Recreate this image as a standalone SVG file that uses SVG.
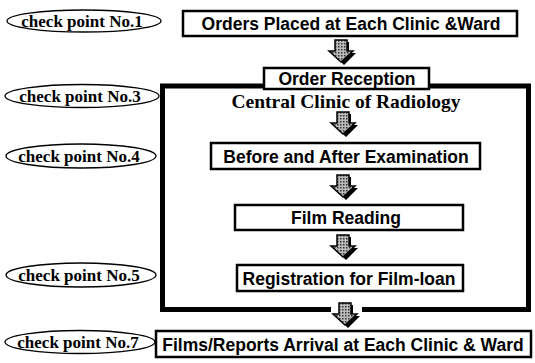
<svg xmlns="http://www.w3.org/2000/svg" width="535" height="363" viewBox="0 0 535 363">
<style>
.box{fill:#fff;stroke:#000;stroke-width:2.5}
.lbl{font-family:"Liberation Sans",Arial,sans-serif;font-weight:bold;font-size:17.5px;text-anchor:middle;fill:#000}
.cp{fill:#fff;stroke:#000;stroke-width:1.3}
.cpt{font-family:"Liberation Serif","Times New Roman",serif;font-weight:bold;font-size:17px;text-anchor:middle;fill:#000}
.frame{fill:none;stroke:#000;stroke-width:5}
.title{font-family:"Liberation Serif","Times New Roman",serif;font-weight:bold;font-size:19.5px;text-anchor:middle;fill:#000}
</style>
<defs>
<pattern id="dots" width="3" height="3" patternUnits="userSpaceOnUse">
<rect width="3" height="3" fill="#bbb"/>
<rect width="1.5" height="1.5" fill="#333"/>
</pattern>
<g id="arr">
<path d="M-4,2 H8 V13 H15 L3,25 L-9,13 H-4 Z" fill="#000"/>
<path d="M-6,0 H6 V11 H12 L0,22 L-12,11 H-6 Z" fill="url(#dots)" stroke="#000" stroke-width="1.5" stroke-linejoin="miter"/>
</g>
</defs>
<rect width="535" height="363" fill="#fff"/>

<g id="frame-central">
<path class="frame" d="M331,309.5 H162.5 V86 H528.5 V309.5 H362"/>
</g>

<g id="cp1"><ellipse class="cp" cx="84" cy="21" rx="77" ry="11"/><text class="cpt" x="82" y="26.5">check point No.1</text></g>
<g id="cp3"><ellipse class="cp" cx="82" cy="96" rx="77" ry="11.5"/><text class="cpt" x="80" y="101.5">check point No.3</text></g>
<g id="cp4"><ellipse class="cp" cx="81" cy="156" rx="75" ry="12"/><text class="cpt" x="79" y="161.5">check point No.4</text></g>
<g id="cp5"><ellipse class="cp" cx="81" cy="275" rx="75" ry="12"/><text class="cpt" x="79" y="280.5">check point No.5</text></g>
<g id="cp7"><ellipse class="cp" cx="80" cy="342" rx="75" ry="11.5"/><text class="cpt" x="78" y="347.5">check point No.7</text></g>

<g id="n-orders"><rect class="box" x="183" y="11" width="334" height="25"/><text class="lbl" x="351" y="30">Orders Placed at Each Clinic &amp;Ward</text></g>
<g id="n-reception"><rect class="box" x="264" y="68" width="165" height="21"/><text class="lbl" x="347" y="84.5">Order Reception</text></g>
<g id="n-central"><text class="title" x="346" y="108">Central Clinic of Radiology</text></g>
<g id="n-exam"><rect class="box" x="211" y="143" width="269" height="26"/><text class="lbl" x="346" y="162.5">Before and After Examination</text></g>
<g id="n-reading"><rect class="box" x="235" y="205" width="228" height="25"/><text class="lbl" x="346" y="223.5">Film Reading</text></g>
<g id="n-loan"><rect class="box" x="237" y="265" width="226" height="26"/><text class="lbl" x="349" y="284.5">Registration for Film-loan</text></g>
<g id="n-arrival"><rect class="box" x="156" y="331" width="375" height="26"/><text class="lbl" x="343" y="350.5">Films/Reports Arrival at Each Clinic &amp; Ward</text></g>

<g id="connectors">
<use href="#arr" x="341" y="40"/>
<use href="#arr" x="343" y="112"/>
<use href="#arr" x="343" y="175"/>
<use href="#arr" x="343" y="235"/>
<use href="#arr" x="345" y="303"/>
</g>
</svg>
